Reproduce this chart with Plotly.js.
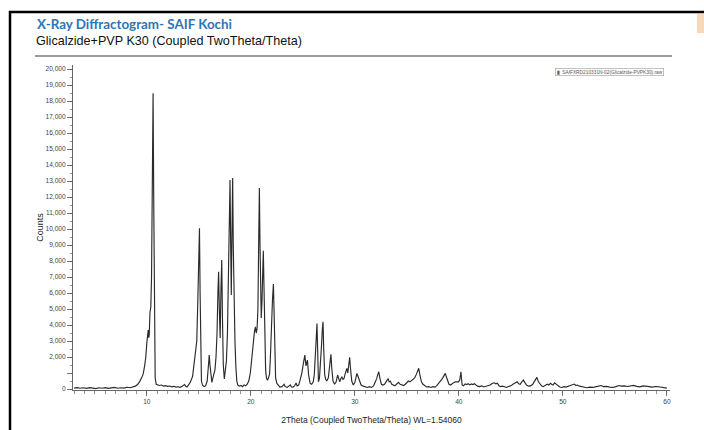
<!DOCTYPE html>
<html>
<head>
<meta charset="utf-8">
<script src="https://cdn.plot.ly/plotly-3.0.1.min.js"></script>
<style>
  html, body { margin: 0; padding: 0; background: #fff; }
  #chart { width: 704px; height: 430px; }
</style>
</head>
<body>
<div id="chart"></div>
<script>
// ---- Data (2Theta in degrees, intensity in counts) ----
// Region 1: 3 – 13.9 deg
const theta1 = [3.0, 3.3, 3.6, 3.9, 4.2, 4.5, 4.8, 5.1, 5.4, 5.7, 6.0, 6.3, 6.6, 6.9, 7.2, 7.5, 7.8, 8.1, 8.4, 8.7, 8.9,
  9.1, 9.3, 9.5, 9.65, 9.8, 9.9, 10.0, 10.08, 10.13, 10.18, 10.23, 10.3, 10.38, 10.45, 10.52, 10.6, 10.66, 10.72, 10.8, 10.9,
  11.0, 11.2, 11.4, 11.6, 11.8, 12.0, 12.2, 12.4, 12.6, 12.8, 13.0, 13.2, 13.4, 13.55, 13.63, 13.72, 13.85];
const counts1 = [60, 90, 50, 80, 40, 90, 60, 30, 80, 50, 90, 40, 70, 100, 50, 80, 60, 110, 80, 140, 180,
  280, 450, 700, 950, 1500, 2000, 2900, 3500, 3690, 3200, 3400, 4800, 5100, 7000, 12000, 18480, 12000, 4000, 700, 300,
  260, 220, 250, 180, 210, 170, 190, 140, 170, 120, 140, 110, 170, 250, 280, 180, 130];

// Region 2: 14 – 22.9 deg
const theta2 = [14.0, 14.2, 14.4, 14.55, 14.7, 14.8, 14.9, 14.97, 15.06, 15.12, 15.18, 15.25, 15.35, 15.5, 15.65, 15.8, 15.9,
  16.0, 16.07, 16.15, 16.25, 16.35, 16.45, 16.55, 16.65, 16.75, 16.83, 16.9, 16.97, 17.05, 17.12, 17.2, 17.27, 17.35, 17.45,
  17.55, 17.65, 17.75, 17.85, 17.93, 18.0, 18.06, 18.12, 18.18, 18.25, 18.31, 18.38, 18.47, 18.55, 18.65, 18.75, 18.9,
  19.05, 19.2, 19.35, 19.5, 19.65, 19.8, 19.95, 20.05, 20.15, 20.25, 20.35, 20.44, 20.52, 20.6, 20.68, 20.75, 20.82, 20.88,
  20.95, 21.0, 21.07, 21.14, 21.2, 21.26, 21.33, 21.42, 21.5, 21.6, 21.7, 21.8, 21.88, 21.95, 22.0, 22.08, 22.17, 22.23,
  22.3, 22.38, 22.5, 22.65, 22.8];
const counts2 = [250, 450, 800, 1500, 2300, 3000, 5500, 8500, 10040, 6000, 2000, 500, 250, 150, 200, 500, 1300,
  2125, 1500, 700, 420, 700, 930, 1200, 2000, 3500, 6000, 7330, 5000, 3190, 6000, 8060, 4500, 1500, 630,
  1200, 1760, 3500, 7000, 11000, 13060, 9000, 5875, 9500, 13190, 9000, 4500, 3060, 1500, 500, 250, 180,
  220, 150, 260, 200, 300, 500, 1000, 1700, 2400, 3000, 3600, 3890, 3500, 3800, 5000, 9000, 12560, 9000,
  5500, 4440, 5500, 7500, 8640, 6500, 3500, 1200, 700, 550, 700, 930, 2000, 3800, 5250, 5600, 6560, 4500,
  1800, 700, 350, 200, 120];

// Region 3: 23 – 36.9 deg
const theta3 = [23.0, 23.1, 23.2, 23.3, 23.5, 23.65, 23.8, 23.9, 24.05, 24.2, 24.35, 24.45, 24.6, 24.75, 24.9, 25.05, 25.19,
  25.3, 25.44, 25.55, 25.7, 25.85, 26.0, 26.1, 26.2, 26.3, 26.36, 26.42, 26.5, 26.6, 26.7, 26.8, 26.88, 26.94, 27.0, 27.1,
  27.2, 27.3, 27.45, 27.55, 27.65, 27.7, 27.78, 27.9, 28.05, 28.2, 28.34, 28.45, 28.55, 28.65, 28.75, 28.85, 28.95, 29.05,
  29.15, 29.23, 29.32, 29.42, 29.5, 29.58, 29.7, 29.85, 30.0, 30.1, 30.2, 30.3, 30.45, 30.6, 30.8, 31.0, 31.2, 31.4, 31.6,
  31.8, 31.95, 32.1, 32.2, 32.3, 32.4, 32.55, 32.7, 32.85, 33.0, 33.1, 33.2, 33.3, 33.4, 33.55, 33.7, 33.85, 34.0, 34.2,
  34.35, 34.5, 34.7, 34.85, 35.0, 35.15, 35.3, 35.45, 35.6, 35.75, 35.9, 36.05, 36.14, 36.25, 36.4, 36.55, 36.7, 36.9];
const counts3 = [150, 250, 300, 150, 100, 180, 260, 130, 120, 200, 380, 200, 250, 600, 1000, 1600, 2125,
  1450, 1810, 900, 350, 300, 450, 900, 2000, 3500, 4100, 2500, 450, 700, 1500, 2800, 3800, 4200, 2600, 900,
  600, 500, 700, 1300, 2000, 2170, 1300, 500, 300, 450, 875, 600, 450, 650, 770, 600, 650, 900,
  1100, 1290, 1000, 1500, 1980, 1300, 500, 250, 400, 700, 980, 800, 450, 250, 180, 120, 100, 150, 100,
  200, 400, 650, 900, 1080, 700, 300, 250, 300, 450, 550, 650, 450, 500, 300, 250, 200, 300, 420,
  300, 250, 220, 300, 420, 500, 450, 550, 650, 700, 900, 1200, 1300, 900, 450, 300, 200, 130];

// Region 4: 37 – 60 deg
const theta4 = [37.1, 37.3, 37.5, 37.7, 37.85, 38.0, 38.15, 38.3, 38.45, 38.6, 38.7, 38.8, 38.9, 39.05, 39.2, 39.35, 39.5,
  39.65, 39.8, 39.95, 40.08, 40.15, 40.2, 40.26, 40.32, 40.45, 40.6, 40.75, 40.9, 41.05, 41.2, 41.35, 41.5, 41.65, 41.8,
  42.0, 42.2, 42.4, 42.6, 42.8, 43.0, 43.2, 43.4, 43.55, 43.7, 43.85, 44.0, 44.2, 44.4, 44.6, 44.8, 45.0, 45.2, 45.4, 45.6,
  45.75, 45.9, 46.05, 46.2, 46.35, 46.5, 46.7, 46.9, 47.1, 47.3, 47.5, 47.65, 47.8, 47.95, 48.1, 48.3, 48.5, 48.65, 48.8,
  48.95, 49.05, 49.2, 49.35, 49.5, 49.7, 49.9, 50.1, 50.3, 50.5, 50.7, 50.9, 51.1, 51.25, 51.4, 51.6, 51.8, 52.0, 52.3,
  52.6, 52.9, 53.2, 53.5, 53.7, 53.9, 54.2, 54.5, 54.8, 55.1, 55.4, 55.6, 55.9, 56.2, 56.5, 56.8, 57.1, 57.4, 57.7, 58.0,
  58.3, 58.6, 58.9, 59.2, 59.5, 59.8, 60.0];
const counts4 = [150, 100, 150, 120, 200, 300, 450, 550, 700, 900, 980, 750, 500, 300, 250, 350, 400,
  450, 460, 450, 550, 800, 1080, 600, 250, 200, 320, 280, 330, 260, 320, 280, 330, 250, 180,
  150, 200, 130, 160, 220, 250, 350, 390, 330, 360, 200, 150, 180, 120, 100, 170, 200, 300, 380, 450,
  330, 300, 450, 560, 400, 250, 180, 200, 300, 500, 730, 450, 300, 200, 150, 200, 300, 250, 360,
  280, 250, 390, 300, 200, 130, 100, 150, 120, 160, 200, 250, 310, 220, 250, 180, 150, 120, 80,
  120, 100, 150, 180, 220, 150, 170, 120, 100, 150, 220, 180, 200, 160, 200, 230, 170, 140, 200, 190,
  150, 120, 160, 140, 100, 80, 60];

// Axis ticks
const yTickVals = [0, 1000, 2000, 3000, 4000, 5000, 6000, 7000, 8000, 9000, 10000, 11000, 12000, 13000, 14000, 15000, 16000, 17000, 18000, 19000, 20000];
const yTickText = ['0', '', '2,000', '3,000', '4,000', '5,000', '6,000', '7,000', '8,000', '9,000', '10,000', '11,000', '12,000', '13,000', '14,000', '15,000', '16,000', '17,000', '18,000', '19,000', '20,000'];
const xTickVals = [10, 20, 30, 40, 50, 60];

const mainTitle = 'X-Ray Diffractogram- SAIF Kochi';
const subTitle = 'Glicalzide+PVP K30 (Coupled TwoTheta/Theta)';
const legendLabel = 'SAIFXRD210331N-02(Glicalzide-PVPK30).raw';

const twoTheta = theta1.concat(theta2, theta3, theta4);
const counts = counts1.concat(counts2, counts3, counts4);

// ---- Plot geometry helpers (pixel -> paper) ----
const W = 704, H = 430;
const M = { l: 73, r: 34, t: 65, b: 40 };
const pw = W - M.l - M.r, ph = H - M.t - M.b;
const px = x => (x - M.l) / pw;
const py = y => (H - M.b - y) / ph;

const trace = {
  x: twoTheta,
  y: counts,
  type: 'scatter',
  mode: 'lines',
  line: { color: '#2a2a2a', width: 1.15 },
  showlegend: false,
  hoverinfo: 'x+y'
};

const axisFont = { family: 'Liberation Sans, Arial, sans-serif', size: 6.6, color: '#444' };

const layout = {
  width: W,
  height: H,
  margin: M,
  paper_bgcolor: '#ffffff',
  plot_bgcolor: '#ffffff',
  showlegend: false,
  xaxis: {
    range: [2.9, 60.3],
    tickmode: 'array',
    tickvals: xTickVals,
    ticktext: xTickVals.map(String),
    ticks: 'outside',
    ticklen: 5,
    tickwidth: 0.8,
    tickcolor: '#555',
    minor: { tickmode: 'linear', tick0: 0, dtick: 1, ticks: 'outside', ticklen: 2.5, tickcolor: '#666', tickwidth: 0.7 },
    showline: true,
    linecolor: '#666',
    linewidth: 1,
    showgrid: false,
    zeroline: false,
    tickfont: axisFont,
    title: { text: '2Theta (Coupled TwoTheta/Theta) WL=1.54060', font: { family: 'Liberation Sans, Arial, sans-serif', size: 8.5, color: '#222' }, standoff: 13 }
  },
  yaxis: {
    range: [-60, 20250],
    tickmode: 'array',
    tickvals: yTickVals,
    ticktext: yTickText,
    ticks: 'outside',
    ticklen: 5,
    tickwidth: 0.8,
    tickcolor: '#555',
    minor: { tickmode: 'linear', tick0: 0, dtick: 500, ticks: 'outside', ticklen: 2.5, tickcolor: '#666', tickwidth: 0.7 },
    showline: true,
    linecolor: '#666',
    linewidth: 1,
    showgrid: false,
    zeroline: false,
    tickfont: axisFont,
    title: { text: 'Counts', font: { family: 'Liberation Sans, Arial, sans-serif', size: 9, color: '#222' }, standoff: 0 }
  },
  shapes: [
    // picture frame (left and top)
    { type: 'line', xref: 'paper', yref: 'paper', x0: px(10), x1: px(10), y0: py(11), y1: py(431), line: { color: '#000', width: 2.5 } },
    { type: 'line', xref: 'paper', yref: 'paper', x0: px(9), x1: px(704), y0: py(12), y1: py(12), line: { color: '#000', width: 2.5 } },
    // rule below the subtitle
    { type: 'line', xref: 'paper', yref: 'paper', x0: px(35), x1: px(672), y0: py(56), y1: py(56), line: { color: '#7a7a7a', width: 1.5 } },
    // orange smudge at top right edge
    { type: 'rect', xref: 'paper', yref: 'paper', x0: px(697), x1: px(704), y0: py(14), y1: py(33), line: { width: 0 }, fillcolor: 'rgba(245,190,140,0.6)' }
  ],
  annotations: [
    { text: '<b>' + mainTitle + '</b>', xref: 'paper', yref: 'paper', x: px(35), y: py(24), xanchor: 'left', yanchor: 'middle', showarrow: false,
      font: { family: 'Lato, Open Sans, sans-serif', size: 13.4, color: '#2e75b6' } },
    { text: subTitle, xref: 'paper', yref: 'paper', x: px(34), y: py(41.5), xanchor: 'left', yanchor: 'middle', showarrow: false,
      font: { family: 'Liberation Sans, Arial, sans-serif', size: 12.6, color: '#111' } },
    { text: '<b>▮</b>  ' + legendLabel, xref: 'paper', yref: 'paper', x: px(609), y: py(72), xanchor: 'center', yanchor: 'middle', showarrow: false,
      font: { family: 'Liberation Sans, Arial, sans-serif', size: 4.8, color: '#555' },
      bordercolor: '#999', borderwidth: 0.6, borderpad: 1, bgcolor: '#fff' }
  ]
};

Plotly.newPlot('chart', [trace], layout, { displayModeBar: false, staticPlot: true });
</script>
</body>
</html>
